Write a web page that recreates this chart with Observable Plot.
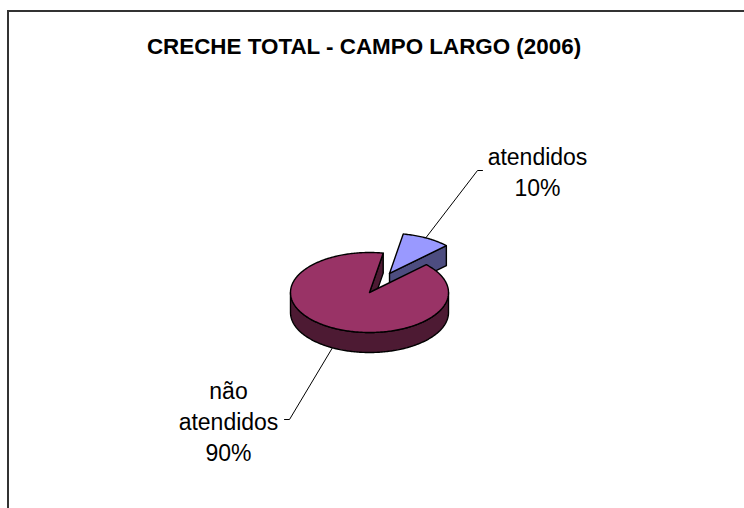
<!DOCTYPE html>
<html>
<head>
<meta charset="utf-8">
<script src="https://cdn.jsdelivr.net/npm/d3@7"></script>
<script src="https://cdn.jsdelivr.net/npm/@observablehq/plot@0.6"></script>
<style>
  html, body { margin: 0; padding: 0; background: #fff; }
  #wrap { position: relative; width: 744px; height: 508px; overflow: hidden; }
  #frame { position: absolute; left: 7px; top: 10px; width: 800px; height: 600px;
           border-left: 2px solid #333; border-top: 2px solid #333; box-sizing: border-box; }
  #chart { position: absolute; left: 0; top: 0; }
</style>
</head>
<body>
<div id="wrap"><div id="frame"></div><div id="chart"></div></div>
<script>
const title = "CRECHE TOTAL - CAMPO LARGO (2006)";
const categories = ["atendidos", "não atendidos"];
const values = [10, 90];
const percentLabels = ["10%", "90%"];
const labelLines = [["atendidos"], ["não", "atendidos"]];

const topColors = ["#9999FF", "#993366"];
const sideColors = ["#4D4D80", "#4D1A33"];

// layout
const W = 744, H = 508;
const cx = 369, cy = 292, rx = 79, ry = 40, depth = 20, explode = [0.54, 0];
const deg = Math.PI / 180;
const startAngle = 10 * deg;
const labelPos = [{x: 537, y: 170, tickDir: -1}, {x: 228, y: 420, tickDir: 1}];
const tickEnds = [{x: 482, y: 170}, {x: 284, y: 419}];

const arcs = d3.pie().sort(null).startAngle(startAngle).endAngle(startAngle + 2 * Math.PI)(values);

function pt(a, r, dz, off) {
  return {x: cx + off.x + rx * r * Math.sin(a), y: cy + off.y - ry * r * Math.cos(a) + dz};
}
function arcPts(a0, a1, dz, off) {
  const n = Math.max(2, Math.ceil(Math.abs(a1 - a0) / deg));
  const out = [];
  for (let k = 0; k <= n; k++) out.push(pt(a0 + (a1 - a0) * k / n, 1, dz, off));
  return out;
}

const polys = [];
const leaders = [];
// draw the exploded (back) slice first, then the main slice
[0, 1].forEach(i => {
  const {startAngle: s, endAngle: e} = arcs[i];
  const mid = (s + e) / 2;
  const off = {x: rx * explode[i] * Math.sin(mid), y: -ry * explode[i] * Math.cos(mid)};
  const c0 = pt(0, 0, 0, off), c1 = pt(0, 0, depth, off);
  // cut faces
  if (Math.sin(s) < 0) {
    polys.push({fill: sideColors[i], pts: [c0, pt(s, 1, 0, off), pt(s, 1, depth, off), c1]});
  }
  if (Math.sin(e) > 0) {
    polys.push({fill: sideColors[i], pts: [c0, pt(e, 1, 0, off), pt(e, 1, depth, off), c1]});
  }
  // outer wall (front half only)
  for (const base of [0, 2 * Math.PI]) {
    const a0 = Math.max(s, base + Math.PI / 2), a1 = Math.min(e, base + 3 * Math.PI / 2);
    if (a1 > a0) {
      polys.push({fill: sideColors[i], pts: [...arcPts(a0, a1, 0, off), ...arcPts(a1, a0, depth, off)]});
    }
  }
  // top face
  polys.push({fill: topColors[i], pts: [c0, ...arcPts(s, e, 0, off)]});
  // leader line
  const anchor = Math.cos(mid) < 0 && Math.abs(Math.sin(mid)) < 0.9
    ? pt(mid, 1, depth, off) : pt(mid, 0.9, 0, off);
  const t = tickEnds[i];
  leaders.push([{x: t.x, y: t.y}, {x: t.x + 5 * labelPos[i].tickDir, y: t.y}, anchor]);
});

const textData = categories.map((c, i) => ({
  text: [...labelLines[i], percentLabels[i]].join("\n"), x: labelPos[i].x, y: labelPos[i].y
}));

const marks = [];
leaders.forEach(l => marks.push(Plot.line(l, {x: "x", y: "y", stroke: "black", strokeWidth: 1})));
polys.forEach(p => marks.push(Plot.line([...p.pts, p.pts[0]], {
  x: "x", y: "y", fill: p.fill, stroke: "black", strokeWidth: 1.4, strokeLinejoin: "round", curve: "linear"
})));
marks.push(Plot.text(textData, {
  x: "x", y: "y", text: "text", fontSize: 23, lineHeight: 1.35, textAnchor: "middle",
  fill: "black", fontFamily: "Liberation Sans, Arial, sans-serif"
}));
marks.push(Plot.text([title], {
  x: () => 363.5, y: () => 46, text: d => d, fontSize: 22.4, fontWeight: "bold",
  textAnchor: "middle", fill: "black", fontFamily: "Liberation Sans, Arial, sans-serif"
}));

const chart = Plot.plot({
  width: W, height: H, margin: 0,
  x: {domain: [0, W], range: [0, W], axis: null},
  y: {domain: [0, H], range: [0, H], axis: null},
  style: {background: "transparent", overflow: "visible"},
  marks
});
document.getElementById("chart").append(chart);
</script>
</body>
</html>
